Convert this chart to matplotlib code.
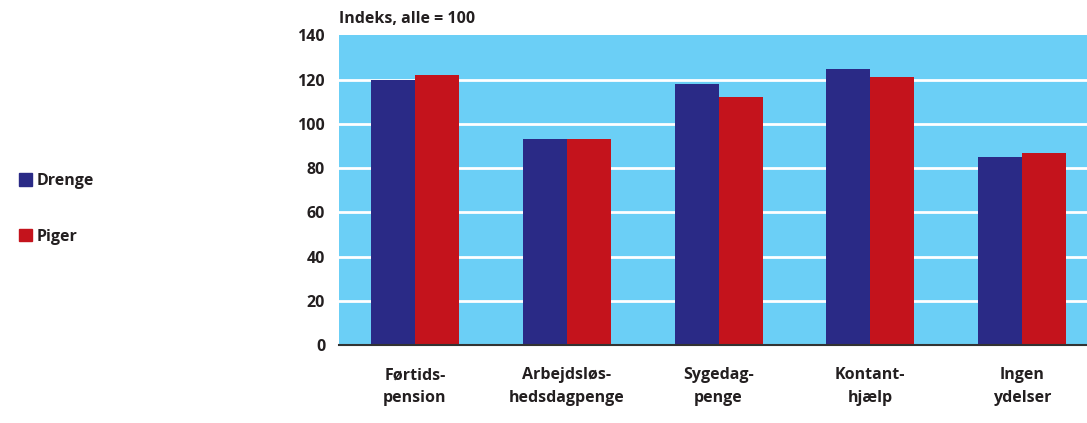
import numpy as np
import matplotlib.pyplot as plt
from matplotlib.patches import Patch

categories = ["Førtids-\npension", "Arbejdsløs-\nhedsdagpenge", "Sygedag-\npenge",
              "Kontant-\nhjælp", "Ingen\nydelser"]
drenge = [120, 93, 118, 125, 85]
piger = [122, 93, 112, 121, 87]
yticks = [0, 20, 40, 60, 80, 100, 120, 140]

plt.rcParams['font.family'] = ['Open Sans', 'DejaVu Sans']
plt.rcParams['font.weight'] = 'bold'
text_col = '#231f20'

fig = plt.figure(figsize=(10.87, 4.23), dpi=100)
ax = fig.add_axes([0.3119, 0.1844, 0.6983, 0.7317])
ax.set_facecolor('#6bcff6')

x = np.arange(len(categories))
w = 0.29
ax.bar(x - w / 2, drenge, w, color='#2a2a86', zorder=3, label='Drenge')
ax.bar(x + w / 2, piger, w, color='#c4131c', zorder=3, label='Piger')

ax.set_xlim(-0.5, len(categories) - 0.5)
ax.set_ylim(0, 140)
ax.set_yticks(yticks)
for v in yticks[1:-1]:
    ax.axhline(v, color='white', lw=2, zorder=1)

for s in ['top', 'right', 'left']:
    ax.spines[s].set_visible(False)
ax.spines['bottom'].set_color('#333333')
ax.spines['bottom'].set_linewidth(1.5)
ax.spines['bottom'].set_zorder(4)

ax.set_xticks(x)
ax.set_xticklabels(categories, fontsize=11.5, fontweight='bold', color=text_col,
                   linespacing=1.55)
ax.tick_params(axis='x', length=0, pad=16)
ax.tick_params(axis='y', length=0, pad=10, labelsize=11.5, labelcolor=text_col)
for t in ax.get_yticklabels():
    t.set_fontweight('bold')

fig.text(0.3119, 0.935, "Indeks, alle = 100", fontsize=11.5, fontweight='bold',
         color=text_col, va='bottom', ha='left')

handles = [Patch(color='#2a2a86', label='Drenge'), Patch(color='#c4131c', label='Piger')]
fig.legend(handles=handles, loc='upper left', bbox_to_anchor=(0.004, 0.625),
           frameon=False, handlelength=0.8, handleheight=0.8,
           handletextpad=0.3, labelspacing=2.5, prop={'weight': 'bold', 'size': 11.5})
for t in fig.legends[0].get_texts():
    t.set_color(text_col)

fig.savefig("out.png", dpi=100)
